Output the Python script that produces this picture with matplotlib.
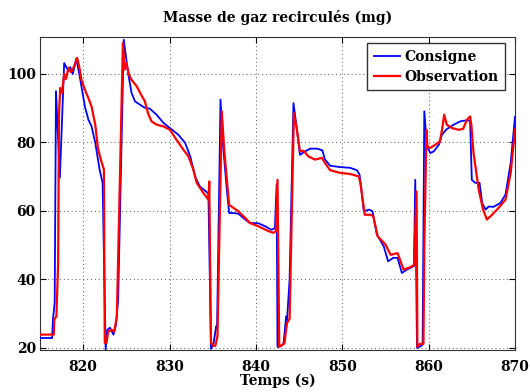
import matplotlib
matplotlib.use("Agg")
import matplotlib.pyplot as plt

# Consigne (blue)
t_cons = [815.0, 816.4, 816.5, 816.7, 816.85, 817.3, 817.8, 818.3, 818.5, 818.8, 819.2,
          819.6, 820.2, 820.6, 820.97, 821.4, 821.9, 822.25, 822.6, 822.8, 823.1, 823.5,
          823.8, 824.05, 824.7, 825.2, 825.6, 826.0, 826.6, 827.15, 827.7, 828.5, 829.3,
          830.05, 831.0, 831.8, 832.4, 832.95, 833.5, 834.4, 834.5, 834.8, 835.1, 835.4,
          835.5, 835.9, 836.2, 836.6, 836.9, 837.4, 837.97, 838.75, 839.3, 840.3, 841.1,
          841.8, 842.2, 842.4, 842.5, 842.8, 843.2, 843.5, 843.6, 843.9, 844.35, 844.75,
          845.1, 845.7, 846.3, 847.1, 847.7, 848.0, 848.6, 849.8, 850.9, 851.7, 852.0,
          852.5, 853.1, 853.5, 854.0, 854.8, 855.3, 855.9, 856.4, 856.9, 857.5, 858.3,
          858.45, 858.65, 859.1, 859.3, 859.5, 859.8, 860.2, 860.6, 861.2, 861.55, 862.1,
          862.9, 863.7, 864.45, 864.8, 865.0, 865.4, 865.9, 866.2, 866.6, 866.95, 867.5,
          868.3, 868.9, 869.5, 870.0]
y_cons = [22.9, 22.9, 28.3, 33.2, 95.0, 69.7, 103.2, 100.8, 102.0, 100.0, 104.5,
          99.3, 90.5, 86.7, 84.7, 79.9, 72.1, 68.2, 19.5, 25.3, 25.9, 23.9,
          26.8, 34.3, 110.0, 100.3, 94.5, 92.0, 91.0, 90.1, 89.9, 88.1, 85.7,
          84.2, 82.3, 79.9, 75.9, 70.1, 67.2, 65.3, 64.8, 19.7, 21.4, 26.3,
          25.5, 92.5, 78.9, 67.2, 59.4, 59.4, 59.2, 57.5, 56.5, 56.4, 55.5,
          54.5, 55.0, 67.7, 20.3, 20.4, 21.3, 29.2, 28.0, 40.0, 91.5, 83.7,
          76.4, 77.4, 78.2, 78.2, 77.7, 75.0, 73.2, 72.8, 72.6, 71.9, 70.6,
          59.9, 60.4, 59.9, 53.1, 49.7, 45.3, 46.3, 46.3, 41.9, 42.9, 43.9,
          69.1, 20.0, 20.5, 21.0, 89.1, 78.9, 76.9, 77.4, 79.4, 82.3, 83.9,
          85.2, 86.2, 86.5, 86.3, 69.1, 68.2, 68.2, 62.3, 60.4, 61.3, 61.2,
          62.3, 64.8, 74.0, 87.5]

# Observation (red)
t_obs = [815.0, 816.6, 816.65, 816.9, 817.1, 817.2, 817.35, 817.55, 817.8, 818.0, 818.3,
         818.6, 819.0, 819.3, 819.55, 819.8, 820.2, 820.6, 820.97, 821.4, 821.7, 822.1,
         822.4, 822.5, 822.7, 822.9, 823.3, 823.6, 823.9, 824.6, 824.8, 825.0, 825.3,
         825.6, 826.2, 826.8, 827.15, 827.5, 827.9, 828.5, 829.3, 830.05, 830.8, 831.6,
         832.2, 832.75, 833.15, 833.9, 834.5, 834.6, 834.8, 835.1, 835.3, 835.55, 835.75,
         836.05, 836.3, 836.6, 836.9, 837.4, 837.97, 838.75, 839.3, 840.3, 841.3, 842.0,
         842.3, 842.5, 842.7, 843.0, 843.3, 843.6, 843.9, 844.4, 844.75, 845.1, 845.5,
         846.1, 846.85, 847.65, 848.0, 848.6, 849.8, 850.9, 851.9, 852.1, 852.6, 853.3,
         853.6, 854.1, 855.0, 855.6, 856.4, 857.1, 857.9, 858.3, 858.6, 858.7, 859.0,
         859.4, 859.5, 859.75, 859.85, 860.2, 860.8, 861.3, 861.55, 861.8, 862.1, 862.7,
         863.5, 864.0, 864.45, 864.8, 864.95, 865.2, 865.8, 866.3, 866.75, 867.35, 868.1,
         868.9, 869.5, 870.0]
y_obs = [23.9, 23.9, 28.3, 29.2, 44.8, 88.6, 95.9, 94.5, 100.0, 98.5, 101.8,
         100.5, 102.5, 104.7, 102.0, 98.3, 95.4, 93.0, 90.5, 85.2, 78.4, 74.5,
         72.1, 21.5, 21.5, 24.8, 25.3, 24.8, 29.2, 109.1, 101.3, 103.2, 99.8,
         98.3, 96.4, 93.5, 92.0, 88.6, 86.2, 85.2, 84.7, 83.7, 80.8, 77.9,
         75.9, 72.1, 68.2, 65.3, 63.3, 68.6, 21.5, 20.6, 20.6, 23.4, 49.7,
         89.1, 78.9, 70.1, 61.8, 60.9, 59.9, 58.0, 56.5, 55.5, 54.3, 53.6,
         54.0, 69.1, 20.4, 20.8, 21.3, 27.3, 28.5, 88.6, 83.7, 77.4, 77.6,
         75.9, 75.0, 75.5, 74.0, 71.9, 71.1, 70.8, 70.1, 68.2, 58.9, 58.9,
         58.4, 52.6, 50.2, 47.2, 47.7, 42.9, 43.6, 44.2, 65.7, 20.3, 21.2,
         21.2, 50.0, 83.7, 78.9, 78.4, 79.4, 80.3, 83.7, 88.1, 85.2, 84.2,
         83.7, 84.0, 86.7, 87.6, 85.0, 76.9, 66.2, 60.4, 57.5, 58.9, 60.9,
         63.3, 71.1, 83.7]

x_ticks = [820, 830, 840, 850, 860, 870]
y_ticks = [20, 40, 60, 80, 100]

plt.rcParams['font.family'] = ['DejaVu Serif']
plt.rcParams['font.weight'] = 'bold'

fig = plt.figure(figsize=(5.30, 3.92), dpi=100)
ax = fig.add_axes([40/530, 1-350/392, (515-40)/530, (350-37)/392])

ax.plot(t_cons, y_cons, color='#0000ff', lw=1.3, label='Consigne', zorder=3)
ax.plot(t_obs, y_obs, color='#ff0000', lw=1.6, label='Observation', zorder=4)

ax.set_xlim(815, 870)
ax.set_ylim(19.4, 110.8)
ax.set_xticks(x_ticks)
ax.set_yticks(y_ticks)
ax.tick_params(direction='in', length=4, width=0.8, labelsize=10, top=True, right=True)
ax.tick_params(axis='x', pad=7)
ax.tick_params(axis='y', pad=3)
for lab in ax.get_xticklabels() + ax.get_yticklabels():
    lab.set_fontweight('bold')
ax.grid(True, linestyle=(0, (1, 3)), color='#555555', linewidth=0.7)
for s in ax.spines.values():
    s.set_color('#333333')
    s.set_linewidth(0.8)

ax.set_title('Masse de gaz recirculés (mg)', fontsize=10, fontweight='bold', pad=11)
ax.set_xlabel('Temps (s)', fontsize=10, fontweight='bold', labelpad=0)

leg = ax.legend(loc='upper right', bbox_to_anchor=((505-40)/475, (350-43)/313),
                fontsize=10, frameon=True, fancybox=False,
                edgecolor='black', handlelength=1.9, borderpad=0.5, labelspacing=0.4,
                handletextpad=0.25, borderaxespad=0.0)
leg.get_frame().set_linewidth(1.0)
for txt in leg.get_texts():
    txt.set_fontweight('bold')

fig.savefig('out.png', dpi=100)
